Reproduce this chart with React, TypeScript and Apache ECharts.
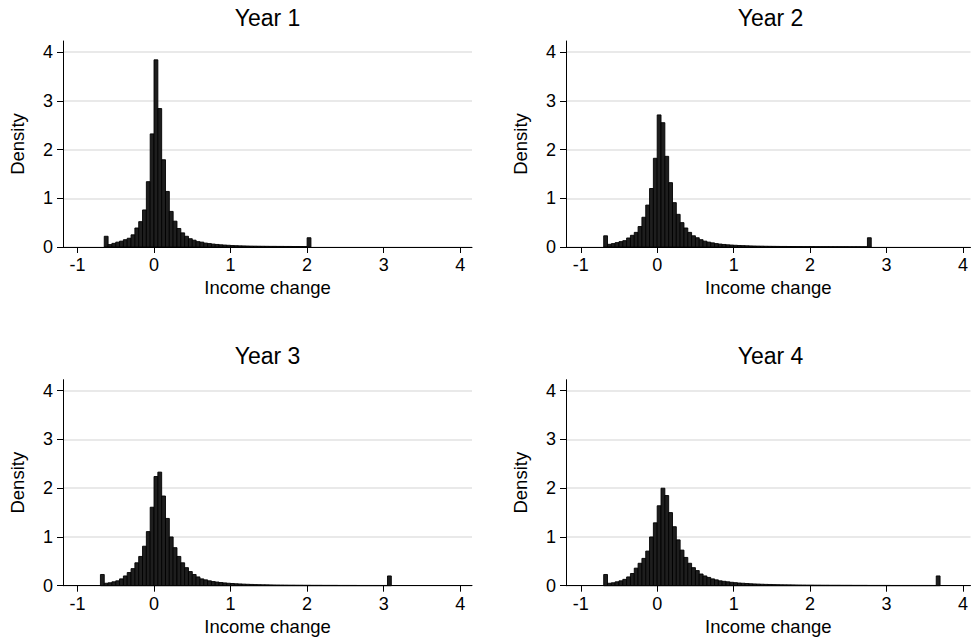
import React, { useEffect, useRef } from "react";
import * as echarts from "echarts";

// ---- data ----
const panelTitles = ["Year 1", "Year 2", "Year 3", "Year 4"];
const binWidth = 0.05;
const binStarts = [-0.65, -0.7, -0.7, -0.7];
const xTicks = [-1, 0, 1, 2, 3, 4];
const yTicks = [0, 1, 2, 3, 4];
const xAxisTitle = "Income change";
const yAxisTitle = "Density";

const year1Density = [
  0.22, 0.05, 0.075, 0.1, 0.12, 0.15, 0.18, 0.25, 0.39, 0.52, 0.76, 1.34, 2.32, 3.84, 2.84, 1.79, 1.14, 0.73,
  0.53, 0.38, 0.29, 0.22, 0.17, 0.14, 0.11, 0.1, 0.08,
  0.07, 0.06, 0.052, 0.045, 0.04, 0.035, 0.03, 0.027, 0.024, 0.022, 0.02, 0.018, 0.017, 0.016, 0.015,
  0.014, 0.013, 0.013, 0.012, 0.012, 0.011, 0.011, 0.01, 0.01, 0.01, 0.009,
  0.19,
];
const year2Density = [
  0.23, 0.055, 0.07, 0.09, 0.11, 0.13, 0.185, 0.24, 0.3, 0.42, 0.61, 0.86, 1.2, 1.82, 2.71, 2.55, 1.86, 1.32,
  0.91, 0.67, 0.5, 0.39, 0.3, 0.23, 0.19, 0.15, 0.12, 0.1,
  0.085, 0.07, 0.06, 0.052, 0.045, 0.04, 0.035, 0.031, 0.028, 0.025, 0.022, 0.02, 0.018, 0.017, 0.015,
  0.014, 0.013, 0.012, 0.011, 0.011, 0.01, 0.01, 0.009, 0.009, 0.008, 0.008, 0.008, 0.007, 0.007, 0.007,
  0.007, 0.006, 0.006, 0.006, 0.006, 0.006, 0.005, 0.005, 0.005, 0.005, 0.005,
  0.19,
];
const year3Density = [
  0.23, 0.05, 0.06, 0.08, 0.1, 0.14, 0.2, 0.27, 0.35, 0.47, 0.6, 0.81, 1.11, 1.61, 2.24, 2.33, 1.84, 1.38,
  1.0, 0.78, 0.6, 0.47, 0.37, 0.29, 0.23, 0.18, 0.14, 0.12,
  0.1, 0.085, 0.075, 0.065, 0.057, 0.05, 0.045, 0.04, 0.036, 0.032, 0.029, 0.026, 0.023, 0.021, 0.019,
  0.018, 0.016, 0.015, 0.014, 0.013, 0.012, 0.011, 0.011, 0.01, 0.01, 0.009, 0.009, 0.008, 0.008, 0.008,
  0.007, 0.007, 0.007, 0.007, 0.006, 0.006, 0.006, 0.006, 0.006, 0.005, 0.005, 0.005, 0.005, 0.005,
  0.005, 0.005, 0.005,
  0.2,
];
const year4Density = [
  0.23, 0.05, 0.06, 0.08, 0.1, 0.13, 0.18, 0.25, 0.36, 0.46, 0.56, 0.71, 1.0, 1.29, 1.64, 2.0, 1.85, 1.5,
  1.21, 0.94, 0.73, 0.58, 0.46, 0.37, 0.31, 0.24,
  0.2, 0.17, 0.14, 0.12, 0.1, 0.09, 0.08, 0.07, 0.062, 0.055, 0.05, 0.045, 0.04, 0.036, 0.033,
  0.03, 0.027, 0.025, 0.023, 0.021, 0.019, 0.018, 0.017, 0.016, 0.015, 0.014, 0.013, 0.012, 0.012, 0.011,
  0.011, 0.01, 0.01, 0.009, 0.009, 0.009, 0.008, 0.008, 0.008, 0.007, 0.007, 0.007, 0.007, 0.006, 0.006,
  0.006, 0.006, 0.006, 0.006, 0.005, 0.005, 0.005, 0.005, 0.005, 0.005, 0.005, 0.005, 0.005, 0.005,
  0.005, 0.005,
  0.2,
];
const densities = [year1Density, year2Density, year3Density, year4Density];

// ---- layout ----
const FONT = "'Liberation Sans', Arial, Helvetica, sans-serif";
const gridLeft = [63, 566, 63, 566];
const gridTop = [41, 41, 379.7, 379.7];
const gridWidth = [409, 405, 409, 405];
const gridHeight = 206;
const xMin = [-1.189, -1.193, -1.189, -1.193];
const xMax = [4.154, 4.098, 4.154, 4.098];
const yMax = 4.226;

function buildBins(start: number, vals: number[]) {
  return vals.map((v, i) => [start + i * binWidth, start + (i + 1) * binWidth, v]);
}

export default function App() {
  const ref = useRef<HTMLDivElement>(null);
  useEffect(() => {
    if (!ref.current) return;
    const chart = echarts.init(ref.current, undefined, { renderer: "svg" });
    const grids = panelTitles.map((_, i) => ({
      left: gridLeft[i],
      top: gridTop[i],
      width: gridWidth[i],
      height: gridHeight,
      containLabel: false,
    }));
    const titles = panelTitles.map((t, i) => ({
      text: t,
      left: gridLeft[i] + gridWidth[i] / 2 + (i % 2 === 1 ? 2 : 0),
      top: gridTop[i] - 35,
      textAlign: "center",
      padding: 0,
      textStyle: { fontSize: 23, fontWeight: "normal", color: "#000", fontFamily: FONT },
    }));
    const xAxes = panelTitles.map((_, i) => ({
      type: "value",
      gridIndex: i,
      min: xMin[i],
      max: xMax[i],
      name: xAxisTitle,
      nameLocation: "middle",
      nameGap: 31,
      nameTextStyle: { fontSize: 18.5, color: "#000", fontFamily: FONT },
      axisLine: { show: true, onZero: false, lineStyle: { color: "#000", width: 1 } },
      axisTick: { show: true, length: 6, customValues: xTicks, lineStyle: { color: "#000", width: 1 } },
      axisLabel: { customValues: xTicks, fontSize: 18, color: "#000", fontFamily: FONT, margin: 9 },
      splitLine: { show: false },
    }));
    const yAxes = panelTitles.map((_, i) => ({
      type: "value",
      gridIndex: i,
      min: 0,
      max: yMax,
      name: yAxisTitle,
      nameLocation: "middle",
      nameRotate: 90,
      nameGap: 36,
      nameTextStyle: { fontSize: 18.5, color: "#000", fontFamily: FONT },
      axisLine: { show: true, onZero: false, lineStyle: { color: "#000", width: 1 } },
      axisTick: { show: true, length: 6, customValues: yTicks, lineStyle: { color: "#000", width: 1 } },
      axisLabel: { customValues: yTicks, fontSize: 18, color: "#000", fontFamily: FONT, margin: 10 },
      splitLine: { show: true, lineStyle: { color: "#e2e2e2", width: 1.5 } },
    }));
    const series = densities.map((vals, i) => ({
      type: "custom",
      xAxisIndex: i,
      yAxisIndex: i,
      encode: { x: [0, 1], y: 2 },
      data: buildBins(binStarts[i], vals),
      renderItem: (_params: any, api: any) => {
        const a = api.coord([api.value(0), api.value(2)]);
        const b = api.coord([api.value(1), 0]);
        return {
          type: "rect",
          shape: { x: a[0], y: a[1], width: b[0] - a[0], height: b[1] - a[1] },
          style: { fill: "#1e1e1e", stroke: "#000", lineWidth: 0.9 },
        };
      },
    }));
    chart.setOption({
      animation: false,
      backgroundColor: "#fff",
      title: titles,
      grid: grids,
      xAxis: xAxes,
      yAxis: yAxes,
      series,
    });
    return () => chart.dispose();
  }, []);
  return (
    <div
      ref={ref}
      style={{ position: "absolute", left: 0, top: 0, width: 971, height: 641, background: "#fff" }}
    />
  );
}
